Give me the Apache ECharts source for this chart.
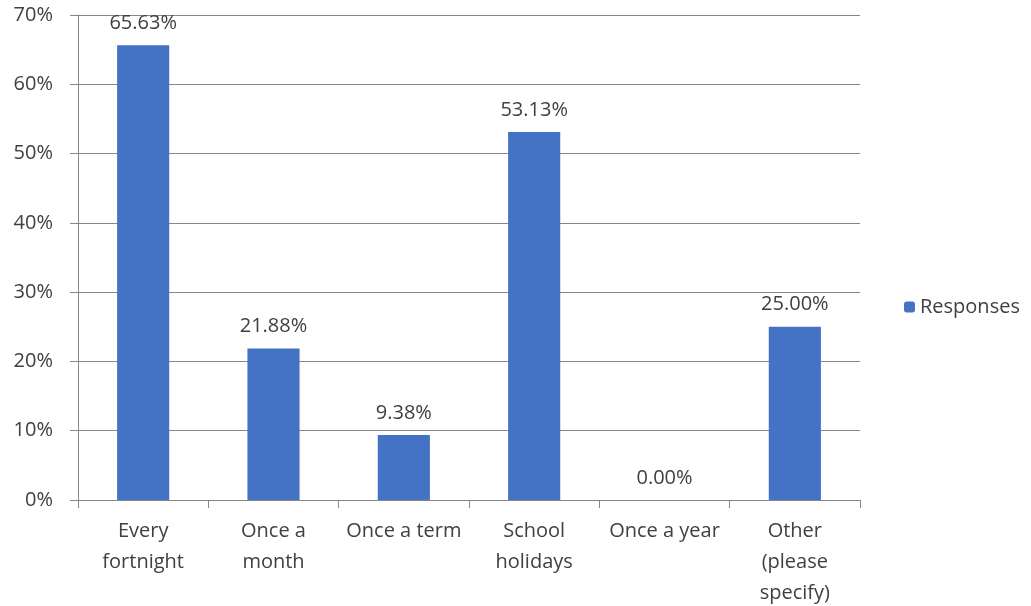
<!DOCTYPE html>
<html><head><meta charset="utf-8">
<script src="https://cdn.jsdelivr.net/npm/echarts@6/dist/echarts.min.js"></script>
<style>html,body{margin:0;padding:0;background:#fff}#c{width:1031px;height:606px}</style>
</head><body><div id="c"></div>
<script>
const categories = ["Every\nfortnight", "Once a\nmonth", "Once a term", "School\nholidays", "Once a year", "Other\n(please\nspecify)"];
const responses = [65.63, 21.88, 9.38, 53.13, 0.00, 25.00];
const seriesName = "Responses";

const chart = echarts.init(document.getElementById('c'));
const font = '"Open Sans", "Noto Sans", sans-serif';
const fs = 20;
chart.setOption({
  animation: false,
  textStyle: { fontFamily: font },
  grid: { left: 78, right: 171, top: 15, bottom: 106, containLabel: false, outerBoundsMode: 'none' },
  legend: {
    data: [seriesName], orient: 'vertical', left: 899, top: 292,
    itemWidth: 11, itemHeight: 11, itemGap: 6,
    textStyle: { fontSize: fs, color: '#404040', fontFamily: font }
  },
  xAxis: {
    type: 'category', data: categories,
    axisLine: { lineStyle: { color: '#868686', width: 1 } },
    axisTick: { show: true, alignWithLabel: false, length: 8, lineStyle: { color: '#868686' } },
    axisLabel: { fontSize: fs, color: '#404040', lineHeight: 31, margin: 16, interval: 0, fontFamily: font }
  },
  yAxis: {
    type: 'value', min: 0, max: 70, interval: 10,
    axisLine: { show: true, lineStyle: { color: '#868686' } },
    axisTick: { show: true, length: 8, lineStyle: { color: '#868686' } },
    splitLine: { lineStyle: { color: '#868686', width: 1 } },
    axisLabel: { formatter: '{value}%', fontSize: fs, color: '#404040', margin: 25, fontFamily: font }
  },
  series: [{
    name: seriesName, type: 'bar', data: responses, barWidth: '40%',
    itemStyle: { color: '#4472C4' },
    label: { show: true, position: 'top', distance: 12, fontSize: fs, color: '#404040', fontFamily: font,
      formatter: p => p.value.toFixed(2) + '%' }
  }]
});
</script></body></html>
